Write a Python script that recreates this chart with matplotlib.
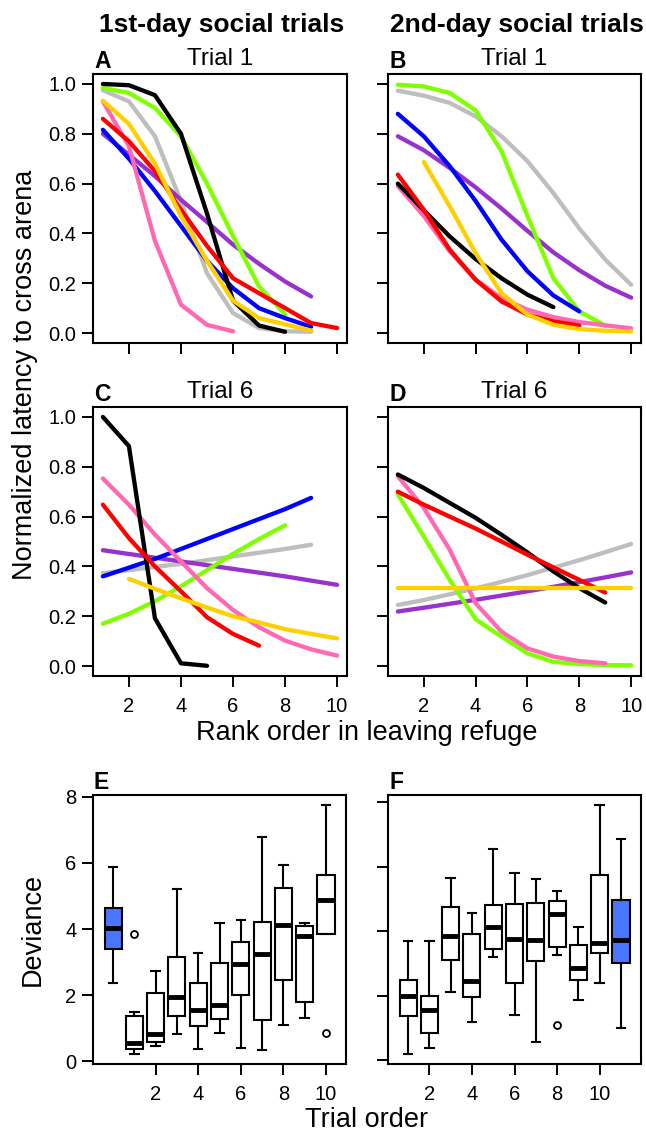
import matplotlib.pyplot as plt

plt.rcParams['font.family'] = ['Liberation Sans', 'DejaVu Sans']

W, H = 646, 1131

COLORS = {
    'gray': '#BEBEBE', 'purple': '#9932CC', 'green': '#7FFF00', 'blue': '#0000FF',
    'pink': '#FF69B4', 'black': '#000000', 'red': '#FF0000', 'yellow': '#FFD000',
}
DRAW_ORDER = ['gray', 'purple', 'green', 'blue', 'pink', 'black', 'red', 'yellow']

# normalized latency per rank (rank starts at 1 unless listed in *_start)
day1_trial1 = {
    'black': [1.0, 0.995, 0.955, 0.80, 0.48, 0.13, 0.03, 0.005],
    'green': [0.984, 0.964, 0.904, 0.79, 0.60, 0.39, 0.187, 0.075],
    'gray': [0.975, 0.93, 0.79, 0.53, 0.24, 0.08, 0.02, 0.007, 0.005],
    'yellow': [0.933, 0.84, 0.68, 0.47, 0.29, 0.13, 0.06, 0.035, 0.01],
    'red': [0.86, 0.77, 0.65, 0.495, 0.35, 0.22, 0.16, 0.10, 0.04, 0.02],
    'blue': [0.816, 0.70, 0.57, 0.43, 0.29, 0.18, 0.10, 0.06, 0.025],
    'purple': [0.80, 0.716, 0.63, 0.535, 0.446, 0.355, 0.278, 0.207, 0.147],
    'pink': [0.93, 0.75, 0.37, 0.114, 0.033, 0.007],
}
day1_trial1_start = {}

day2_trial1 = {
    'green': [0.997, 0.99, 0.964, 0.894, 0.73, 0.47, 0.22, 0.087, 0.03],
    'gray': [0.973, 0.953, 0.924, 0.87, 0.79, 0.69, 0.562, 0.42, 0.295, 0.194],
    'blue': [0.88, 0.79, 0.67, 0.53, 0.375, 0.248, 0.151, 0.087],
    'purple': [0.79, 0.734, 0.663, 0.585, 0.50, 0.41, 0.324, 0.252, 0.19, 0.142],
    'red': [0.636, 0.495, 0.335, 0.214, 0.127, 0.074, 0.047, 0.03],
    'black': [0.60, 0.493, 0.388, 0.297, 0.22, 0.154, 0.104],
    'pink': [0.59, 0.47, 0.328, 0.214, 0.14, 0.094, 0.064, 0.044, 0.031, 0.019],
    'yellow': [0.687, 0.509, 0.321, 0.16, 0.074, 0.033, 0.016, 0.009, 0.007],
}
day2_trial1_start = {'yellow': 2}

day1_trial6 = {
    'black': [1.0, 0.883, 0.192, 0.011, 0.001],
    'pink': [0.753, 0.648, 0.528, 0.42, 0.313, 0.225, 0.156, 0.102, 0.067, 0.042],
    'red': [0.648, 0.514, 0.40, 0.30, 0.196, 0.129, 0.082],
    'blue': [0.36, 0.395, 0.43, 0.47, 0.51, 0.55, 0.59, 0.63, 0.675],
    'gray': [0.373, 0.385, 0.398, 0.41, 0.425, 0.44, 0.455, 0.47, 0.487],
    'green': [0.17, 0.21, 0.26, 0.32, 0.385, 0.45, 0.51, 0.565],
    'purple': [0.465, 0.45, 0.435, 0.42, 0.405, 0.39, 0.375, 0.36, 0.343, 0.326],
    'yellow': [0.35, 0.31, 0.272, 0.235, 0.20, 0.175, 0.148, 0.129, 0.111],
}
day1_trial6_start = {'yellow': 2}

day2_trial6 = {
    'black': [0.769, 0.715, 0.655, 0.595, 0.527, 0.456, 0.38, 0.313, 0.255],
    'red': [0.70, 0.648, 0.60, 0.552, 0.50, 0.447, 0.396, 0.346, 0.295],
    'pink': [0.762, 0.635, 0.467, 0.252, 0.138, 0.071, 0.038, 0.02, 0.011],
    'green': [0.69, 0.52, 0.346, 0.188, 0.118, 0.051, 0.017, 0.008, 0.004, 0.003],
    'gray': [0.245, 0.265, 0.288, 0.312, 0.338, 0.365, 0.395, 0.425, 0.457, 0.49],
    'purple': [0.219, 0.234, 0.25, 0.266, 0.283, 0.30, 0.318, 0.337, 0.356, 0.376],
    'yellow': [0.313, 0.313, 0.313, 0.313, 0.313, 0.313, 0.313, 0.313, 0.313, 0.313],
}
day2_trial6_start = {}

# deviance boxplots (E: trial order 0..10, F: 1..11)
e_positions = [0, 1, 2, 3, 4, 5, 6, 7, 8, 9, 10]
e_whislo = [2.35, 0.21, 0.46, 0.81, 0.35, 0.84, 0.40, 0.33, 1.08, 1.31, 3.86]
e_q1 = [3.38, 0.35, 0.57, 1.36, 1.07, 1.27, 2.00, 1.23, 2.45, 1.79, 3.86]
e_med = [4.04, 0.54, 0.82, 1.93, 1.55, 1.69, 2.94, 3.25, 4.12, 3.80, 4.87]
e_q3 = [4.65, 1.37, 2.07, 3.14, 2.37, 2.96, 3.61, 4.20, 5.23, 4.10, 5.63]
e_whishi = [5.89, 1.49, 2.73, 5.22, 3.27, 4.18, 4.27, 6.80, 5.93, 4.19, 7.76]
e_fliers = [[], [3.84], [], [], [], [], [], [], [], [], [0.86]]
e_highlight = 0

f_positions = [1, 2, 3, 4, 5, 6, 7, 8, 9, 10, 11]
f_whislo = [0.19, 0.37, 2.10, 1.19, 3.19, 1.40, 0.55, 3.27, 1.86, 2.38, 0.99]
f_q1 = [1.38, 0.83, 3.10, 1.95, 3.44, 2.38, 3.07, 3.50, 2.48, 3.33, 3.01]
f_med = [1.98, 1.57, 3.86, 2.47, 4.14, 3.75, 3.72, 4.53, 2.85, 3.64, 3.74]
f_q3 = [2.48, 1.99, 4.76, 3.91, 4.81, 4.86, 4.87, 4.95, 3.56, 5.75, 4.97]
f_whishi = [3.71, 3.71, 5.66, 4.58, 6.54, 5.80, 5.63, 5.25, 4.13, 7.92, 6.86]
f_fliers = [[], [], [], [], [], [], [], [1.09], [], [], []]
f_highlight = 10

rank_ticks = [2, 4, 6, 8, 10]
latency_ticks = [0.0, 0.2, 0.4, 0.6, 0.8, 1.0]
deviance_ticks = [0, 2, 4, 6, 8]


def px(x, y):
    return x / W, 1 - y / H


def add_ax(fig, left, top, right, bottom):
    ax = fig.add_axes([left / W, 1 - bottom / H, (right - left) / W, (bottom - top) / H])
    for s in ax.spines.values():
        s.set_linewidth(1.5)
    ax.tick_params(direction='out', length=8, width=1.4, labelsize=14.5, pad=4)
    return ax


def plot_lines(ax, series, starts, show_xlabels, show_ylabels):
    for name in DRAW_ORDER:
        if name not in series:
            continue
        vals = series[name]
        s = starts.get(name, 1)
        ranks = list(range(s, s + len(vals)))
        ax.plot(ranks, vals, color=COLORS[name], lw=3.1, solid_capstyle='round',
                solid_joinstyle='round')
    ax.set_xlim(0.62, 10.38)
    ax.set_ylim(-0.04, 1.04)
    ax.set_xticks(rank_ticks)
    ax.set_yticks(latency_ticks)
    ax.set_yticklabels([f'{v:.1f}' for v in latency_ticks])
    ax.tick_params(axis='x', labelbottom=show_xlabels, pad=7)
    ax.tick_params(axis='y', labelleft=show_ylabels)


def plot_boxes(ax, positions, whislo, q1, med, q3, whishi, fliers, highlight, xlim, ylim, show_ylabels):
    stats = []
    for i in range(len(positions)):
        stats.append(dict(whislo=whislo[i], q1=q1[i], med=med[i], q3=q3[i],
                          whishi=whishi[i], fliers=fliers[i]))
    bp = ax.bxp(stats, positions=positions, widths=0.8, capwidths=0.4, patch_artist=True,
                manage_ticks=False,
                boxprops=dict(linewidth=1.5, edgecolor='black', facecolor='white'),
                medianprops=dict(color='black', linewidth=3.5, solid_capstyle='butt'),
                whiskerprops=dict(color='black', linewidth=1.5),
                capprops=dict(color='black', linewidth=1.5),
                flierprops=dict(marker='o', markerfacecolor='white', markeredgecolor='black',
                                markersize=5, markeredgewidth=1.3))
    bp['boxes'][highlight].set_facecolor('#4876FF')
    ax.set_xlim(*xlim)
    ax.set_ylim(*ylim)
    ax.set_xticks(rank_ticks)
    ax.set_xticklabels([str(t) for t in rank_ticks])
    ax.set_yticks(deviance_ticks)
    ax.tick_params(axis='x', pad=7)
    ax.tick_params(axis='y', labelleft=show_ylabels)


fig = plt.figure(figsize=(W / 100, H / 100), dpi=100)

ax_a = add_ax(fig, 93, 74, 347, 343)
ax_b = add_ax(fig, 388, 74, 641, 343)
ax_c = add_ax(fig, 93, 407, 347, 676)
ax_d = add_ax(fig, 388, 407, 641, 676)
ax_e = add_ax(fig, 93, 795, 346, 1064)
ax_f = add_ax(fig, 388, 795, 641, 1064)

plot_lines(ax_a, day1_trial1, day1_trial1_start, False, True)
plot_lines(ax_b, day2_trial1, day2_trial1_start, False, False)
plot_lines(ax_c, day1_trial6, day1_trial6_start, True, True)
plot_lines(ax_d, day2_trial6, day2_trial6_start, True, False)

plot_boxes(ax_e, e_positions, e_whislo, e_q1, e_med, e_q3, e_whishi, e_fliers, e_highlight,
           (-0.94, 10.94), (-0.09, 8.06), True)
plot_boxes(ax_f, f_positions, f_whislo, f_q1, f_med, f_q3, f_whishi, f_fliers, f_highlight,
           (0.06, 11.94), (-0.12, 8.23), False)

# column headers
fig.text(*px(222, 32), '1st-day social trials', ha='center', va='baseline', fontsize=19, fontweight='bold')
fig.text(*px(517, 32), '2nd-day social trials', ha='center', va='baseline', fontsize=19, fontweight='bold')

# panel titles and letters
for ax, letter, title in [(ax_a, 'A', 'Trial 1'), (ax_b, 'B', 'Trial 1'),
                          (ax_c, 'C', 'Trial 6'), (ax_d, 'D', 'Trial 6'),
                          (ax_e, 'E', None), (ax_f, 'F', None)]:
    l, b, w, h = ax.get_position().bounds
    top_px = (1 - (b + h)) * H
    left_px = l * W
    fig.text(*px(left_px + 1, top_px - 6), letter, ha='left', va='baseline', fontsize=16.5, fontweight='bold')
    if title:
        fig.text(*px(left_px + w * W / 2, top_px - 9), title, ha='center', va='baseline', fontsize=17.5)

# axis labels
fig.text(*px(25, 375), 'Normalized latency to cross arena', ha='center', va='center', rotation=90, fontsize=19.5)
fig.text(*px(367, 733), 'Rank order in leaving refuge', ha='center', va='center', fontsize=19.5)
fig.text(*px(33, 929), 'Deviance', ha='center', va='center', rotation=90, fontsize=19.5)
fig.text(*px(367, 1120), 'Trial order', ha='center', va='center', fontsize=19.5)

fig.savefig('out.png', dpi=100)
